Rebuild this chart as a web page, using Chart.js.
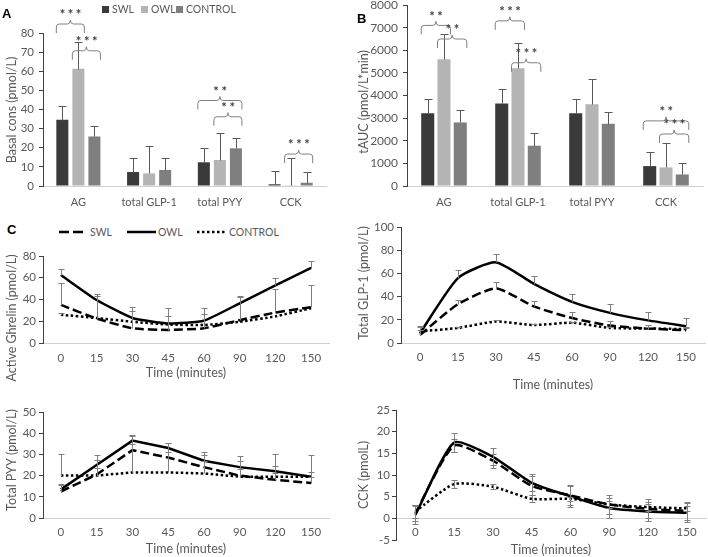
<!DOCTYPE html>
<html>
<head>
<meta charset="utf-8">
<title>Gut hormones</title>
<script src="https://cdn.jsdelivr.net/npm/chart.js@4.4.1/dist/chart.umd.min.js"></script>
<style>
  html, body { margin: 0; padding: 0; background: #fff; }
  #page { position: relative; width: 708px; height: 557px; overflow: hidden; font-family: Lato, sans-serif; color: #595959; }
  canvas { position: absolute; }
  .panel { position: absolute; font: bold 13px "Liberation Sans", Arial, sans-serif; color: #000; line-height: 14px; }
  .leg { position: absolute; font-size: 10.5px; line-height: 12px; white-space: nowrap; }
  .sq { display: inline-block; width: 7px; height: 7px; margin-right: 3px; }
</style>
</head>
<body>
<div id="page">
  <canvas id="chartA" width="354" height="215" style="left:0;top:0"></canvas>
  <canvas id="chartB" width="354" height="225" style="left:354px;top:-10px"></canvas>
  <canvas id="chartAG" width="354" height="145" style="left:0;top:240px"></canvas>
  <canvas id="chartGLP" width="354" height="175" style="left:354px;top:215px"></canvas>
  <canvas id="chartPYY" width="354" height="162" style="left:0;top:395px"></canvas>
  <canvas id="chartCCK" width="354" height="162" style="left:354px;top:395px"></canvas>

  <div class="panel" style="left:2px;top:7px">A</div>
  <div class="panel" style="left:357px;top:12px">B</div>
  <div class="panel" style="left:7px;top:223px">C</div>

  <div class="leg" style="left:102px;top:3px"><span class="sq" style="background:#3a3a3a"></span>SWL</div>
  <div class="leg" style="left:141px;top:3px"><span class="sq" style="background:#b4b4b4"></span>OWL</div>
  <div class="leg" style="left:176px;top:3px"><span class="sq" style="background:#7f7f7f"></span>CONTROL</div>

  <svg style="position:absolute;left:0;top:226px" width="300" height="12">
    <line x1="59" y1="6" x2="87" y2="6" stroke="#000" stroke-width="2.5" stroke-dasharray="10 4"/>
    <line x1="127" y1="6" x2="156" y2="6" stroke="#000" stroke-width="2.5"/>
    <line x1="197" y1="6" x2="226" y2="6" stroke="#000" stroke-width="2.5" stroke-dasharray="2.5 2.5"/>
  </svg>
  <div class="leg" style="left:90px;top:226px">SWL</div>
  <div class="leg" style="left:158px;top:226px">OWL</div>
  <div class="leg" style="left:229px;top:226px">CONTROL</div>
</div>

<script>
// ---- bar panels (A basal, B tAUC)
const barCategories = ['AG', 'total GLP-1', 'total PYY', 'CCK'];
const groupNames = ['SWL', 'OWL', 'CONTROL'];

const basalSWL = [34.6, 7.3, 12.4, 0.9];
const basalOWL = [61.3, 6.6, 13.6, 0.4];
const basalCONTROL = [25.9, 8.4, 19.7, 1.7];
const basalErrSWL = [7, 7.2, 7.7, 7.1];
const basalErrOWL = [14, 14.3, 14, 14];
const basalErrCONTROL = [5.3, 6, 5.3, 5.4];

const aucSWL = [3210, 3650, 3210, 880];
const aucOWL = [5600, 5200, 3610, 820];
const aucCONTROL = [2810, 1780, 2750, 510];
const aucErrSWL = [640, 650, 640, 640];
const aucErrOWL = [1100, 1100, 1100, 1090];
const aucErrCONTROL = [545, 545, 535, 520];

// significance braces: [category, first group, last group, level of brace ends, stars]
const basalSig = [[0, 0, 1, 80, '***'], [0, 1, 2, 66, '***'], [2, 0, 2, 40, '**'], [2, 1, 2, 31.5, '**'], [3, 1, 2, 12, '***']];
const aucSig = [[0, 0, 1, 6700, '**'], [0, 1, 2, 6100, '**'], [1, 0, 1, 6900, '***'], [1, 1, 2, 5050, '***'], [3, 0, 2, 2480, '**'], [3, 1, 2, 1900, '***']];

// ---- time courses (C)
const timeLabels = ['0', '15', '30', '45', '60', '90', '120', '150'];

const agSWL = [35, 22.5, 13.5, 12, 13.5, 21, 28, 33];
const agOWL = [62.5, 39.5, 23, 18, 20.5, 36.5, 53, 69];
const agCONTROL = [26, 23, 19.5, 17, 16.5, 19.5, 24.5, 32];
const agErrSWL = [20, 20.5, 16, 12.5, 13.5, 21.5, 21.5, 20];
const agErrOWL = [6, 5.5, 10, 14.5, 12, 7, 7, 6.5];
const agErrCONTROL = [2, null, null, null, null, null, null, null];

const glpSWL = [7, 33.5, 47, 31.5, 21.5, 15, 12.5, 11];
const glpOWL = [8.5, 56, 69.5, 51, 35.5, 26, 19.5, 14.5];
const glpCONTROL = [10, 13, 18.5, 15.5, 17.5, 13, 12.5, 12];
const glpErrSWL = [4, 4, 5.5, 5, 5, 4, 3, 3];
const glpErrOWL = [5, 7, 7.5, 7, 7, 7.5, 7.5, 7];
const glpErrCONTROL = [4.5, 1, 1, 1, 1, 1, 1, 1];

const pyySWL = [12.5, 20.5, 32, 28.5, 24, 20, 18, 16.5];
const pyyOWL = [13.5, 25, 36.5, 33, 27, 24, 22, 19.5];
const pyyCONTROL = [20, 20, 21.5, 21.5, 21, 19.5, 19.5, 19.5];
const pyyErrSWL = [3.5, 3, 2.7, 2.7, 3, 3, 3, 3];
const pyyErrOWL = [2, 2.5, 2.5, 2.2, 2.5, 2.9, 2.5, 2.4];
const pyyErrCONTROL = [10, 9.7, 17, 13.7, 10, 9.7, 10.5, 10];

const cckSWL = [1.2, 16.8, 13.3, 7.5, 5.3, 3.2, 2.2, 1.7];
const cckOWL = [0.8, 17.5, 14.2, 8.2, 5.1, 2.4, 1.6, 1.3];
const cckCONTROL = [1.6, 7.9, 7.3, 4.5, 4.5, 3.2, 2.6, 2.3];
const cckErrSWL = [1.8, 1.6, 1.6, 2.2, 2.3, 2.3, 2.2, 2.1];
const cckErrOWL = [2, 2.3, 2, 2, 2.4, 2.4, 2.2, 2.2];
const cckErrCONTROL = [1.5, 1, 0.6, 0.8, 0.5, 0.8, 0.8, 0.6];

Chart.defaults.font.family = 'Lato, sans-serif';
Chart.defaults.font.size = 11;
Chart.defaults.color = '#595959';

const axisDark = '#404040';

// error bars, read from dataset.err
const errorBars = {
  id: 'errorBars',
  afterDatasetsDraw(chart, args, opts) {
    const ctx = chart.ctx;
    const ys = chart.scales.y;
    ctx.save();
    ctx.strokeStyle = opts.color;
    ctx.lineWidth = 1;
    chart.data.datasets.forEach((ds, di) => {
      if (!ds.err) return;
      chart.getDatasetMeta(di).data.forEach((el, i) => {
        const e = ds.err[i];
        if (e == null) return;
        const v = ds.data[i];
        const x = Math.round(el.x) + 0.5;
        const yTop = Math.round(ys.getPixelForValue(v + e)) + 0.5;
        const yBot = Math.round(ys.getPixelForValue(opts.both ? v - e : v)) + 0.5;
        ctx.beginPath();
        ctx.moveTo(x, yBot);
        ctx.lineTo(x, yTop);
        ctx.moveTo(x - opts.cap, yTop);
        ctx.lineTo(x + opts.cap, yTop);
        if (opts.both) {
          ctx.moveTo(x - opts.cap, yBot);
          ctx.lineTo(x + opts.cap, yBot);
        }
        ctx.stroke();
      });
    });
    ctx.restore();
  }
};

// curly braces with stars over bar pairs
const braces = {
  id: 'braces',
  afterDraw(chart, args, opts) {
    if (!opts.list) return;
    const ctx = chart.ctx;
    const ys = chart.scales.y;
    ctx.save();
    opts.list.forEach(([cat, g1, g2, level, stars]) => {
      const b1 = chart.getDatasetMeta(g1).data[cat];
      const b2 = chart.getDatasetMeta(g2).data[cat];
      const x1 = b1.x - b1.width / 2;
      const x2 = b2.x + b2.width / 2;
      const yb = ys.getPixelForValue(level);
      const yt = yb - 9;
      const mid = (x1 + x2) / 2;
      ctx.strokeStyle = '#808080';
      ctx.lineWidth = 1;
      ctx.beginPath();
      ctx.moveTo(x1, yb);
      ctx.lineTo(x1, yt + 3);
      ctx.quadraticCurveTo(x1, yt, x1 + 3, yt);
      ctx.lineTo(mid - 3, yt);
      ctx.quadraticCurveTo(mid, yt, mid, yt - 4);
      ctx.quadraticCurveTo(mid, yt, mid + 3, yt);
      ctx.lineTo(x2 - 3, yt);
      ctx.quadraticCurveTo(x2, yt, x2, yt + 3);
      ctx.lineTo(x2, yb);
      ctx.stroke();
      ctx.fillStyle = '#404040';
      ctx.font = 'bold 13px Lato, sans-serif';
      ctx.letterSpacing = '2.5px';
      ctx.textAlign = 'center';
      ctx.textBaseline = 'middle';
      ctx.fillText(stars, mid + 1.5, yt - 9);
    });
    ctx.restore();
  }
};

// axis titles at fixed spots
const axisTitles = {
  id: 'axisTitles',
  afterDraw(chart, args, opts) {
    const ctx = chart.ctx;
    const area = chart.chartArea;
    ctx.save();
    ctx.fillStyle = '#595959';
    ctx.font = '12.5px Lato, sans-serif';
    ctx.textAlign = 'center';
    ctx.textBaseline = 'middle';
    if (opts.x) ctx.fillText(opts.x.text, (area.left + area.right) / 2, opts.x.y);
    if (opts.y) {
      ctx.translate(opts.y.x, opts.y.y);
      ctx.rotate(-Math.PI / 2);
      ctx.fillText(opts.y.text, 0, 0);
    }
    ctx.restore();
  }
};

const barColors = ['#3a3a3a', '#b4b4b4', '#7f7f7f'];

function barChart(id, series, errs, yMax, yStep, sig, layout) {
  return new Chart(document.getElementById(id), {
    type: 'bar',
    data: {
      labels: barCategories,
      datasets: series.map((d, i) => ({
        label: groupNames[i], data: d, err: errs[i],
        backgroundColor: barColors[i], borderWidth: 0,
        categoryPercentage: layout.catPct, barPercentage: layout.barPct
      }))
    },
    options: {
      responsive: false, animation: false, devicePixelRatio: 1,
      layout: { padding: layout.padding },
      plugins: {
        legend: { display: false }, tooltip: { enabled: false },
        errorBars: { color: '#595959', cap: 4, both: false },
        braces: { list: sig },
        axisTitles: { y: layout.yTitle }
      },
      scales: {
        x: {
          ticks: { padding: layout.xPad, autoSkip: false, maxRotation: 0 },
          grid: { display: false, drawTicks: false },
          border: { color: '#d0d0d0' },
          afterFit: s => { s.height = 25; }
        },
        y: {
          min: 0, max: yMax,
          ticks: { stepSize: yStep, padding: layout.yPad, font: { size: layout.tickSize }, callback: v => String(v) },
          grid: { drawOnChartArea: false, drawTicks: true, tickLength: 4, color: axisDark },
          border: { color: axisDark },
          afterFit: s => { s.width = layout.yWidth; }
        }
      }
    },
    plugins: [errorBars, braces, axisTitles]
  });
}

barChart('chartA', [basalSWL, basalOWL, basalCONTROL], [basalErrSWL, basalErrOWL, basalErrCONTROL], 80, 10, basalSig, {
  padding: { left: 0, top: 33, right: 28, bottom: 4 }, yWidth: 43, yPad: 5, xPad: 10, tickSize: 11.5,
  catPct: 0.68, barPct: 0.75, yTitle: { text: 'Basal cons (pmol/L)', x: 12, y: 110 }
});

barChart('chartB', [aucSWL, aucOWL, aucCONTROL], [aucErrSWL, aucErrOWL, aucErrCONTROL], 8000, 1000, aucSig, {
  padding: { left: 0, top: 15, right: 5, bottom: 4 }, yWidth: 53, yPad: 5, xPad: 10, tickSize: 12,
  catPct: 0.66, barPct: 0.8, yTitle: { text: 'tAUC (pmol/L*min)', x: 10, y: 112 }
});

function lineSets(swl, owl, control, eSwl, eOwl, eCtrl, tension) {
  return [
    { label: 'SWL', data: swl, err: eSwl, borderColor: '#000', borderWidth: 2.5, borderDash: [9, 4], pointRadius: 0, tension: tension, fill: false },
    { label: 'OWL', data: owl, err: eOwl, borderColor: '#000', borderWidth: 2.5, pointRadius: 0, tension: tension, fill: false },
    { label: 'CONTROL', data: control, err: eCtrl, borderColor: '#000', borderWidth: 2.5, borderDash: [2.5, 2.5], pointRadius: 0, tension: tension, fill: false }
  ];
}

function lineChart(id, sets, yMin, yMax, yStep, cfg) {
  const xScale = {
    offset: true,
    ticks: { padding: cfg.xPad, autoSkip: false, maxRotation: 0, font: { size: 11.5 } },
    grid: { display: false, drawTicks: false },
    border: { color: '#d0d0d0' }
  };
  if (cfg.zeroAxis) xScale.position = { y: 0 };
  else xScale.afterFit = s => { s.height = cfg.xHeight; };
  return new Chart(document.getElementById(id), {
    type: 'line',
    data: { labels: timeLabels, datasets: sets },
    options: {
      responsive: false, animation: false, devicePixelRatio: 1,
      layout: { padding: cfg.padding },
      plugins: {
        legend: { display: false }, tooltip: { enabled: false },
        errorBars: { color: '#7f7f7f', cap: 3, both: !!cfg.both },
        axisTitles: { x: { text: 'Time (minutes)', y: cfg.xTitleY }, y: cfg.yTitle }
      },
      scales: {
        x: xScale,
        y: {
          min: yMin, max: yMax,
          ticks: { stepSize: yStep, padding: cfg.yPad, font: { size: 11.5 } },
          grid: { drawOnChartArea: false, drawTicks: true, tickLength: 4, color: axisDark },
          border: { color: axisDark },
          afterFit: s => { s.width = cfg.yWidth; }
        }
      }
    },
    plugins: [errorBars, axisTitles]
  });
}

lineChart('chartAG', lineSets(agSWL, agOWL, agCONTROL, agErrSWL, agErrOWL, agErrCONTROL, 0.15), 0, 80, 20, {
  padding: { left: 0, top: 16, right: 25, bottom: 5 }, yWidth: 43, yPad: 3, xPad: 8, xHeight: 37,
  xTitleY: 133, yTitle: { text: 'Active Ghrelin (pmol/L)', x: 12, y: 78 }
});

lineChart('chartGLP', lineSets(glpSWL, glpOWL, glpCONTROL, glpErrSWL, glpErrOWL, glpErrCONTROL, 0.2), 0, 100, 20, {
  padding: { left: 0, top: 12, right: 3, bottom: 7 }, yWidth: 47, yPad: 3, xPad: 7, xHeight: 40,
  xTitleY: 170, yTitle: { text: 'Total GLP-1 (pmol/L)', x: 10, y: 68 }
});

lineChart('chartPYY', lineSets(pyySWL, pyyOWL, pyyCONTROL, pyyErrSWL, pyyErrOWL, pyyErrCONTROL, 0), 0, 50, 10, {
  padding: { left: 0, top: 17, right: 25, bottom: 5 }, yWidth: 43, yPad: 3, xPad: 7, xHeight: 34,
  xTitleY: 154, yTitle: { text: 'Total PYY (pmol/L)', x: 12, y: 65 }
});

lineChart('chartCCK', lineSets(cckSWL, cckOWL, cckCONTROL, cckErrSWL, cckErrOWL, cckErrCONTROL, 0.2), -5, 25, 5, {
  padding: { left: 0, top: 15, right: 2, bottom: 17 }, yWidth: 42, yPad: 2, xPad: 7, zeroAxis: true, both: true,
  xTitleY: 155, yTitle: { text: 'CCK (pmolL)', x: 10, y: 80 }
});
</script>
</body>
</html>
